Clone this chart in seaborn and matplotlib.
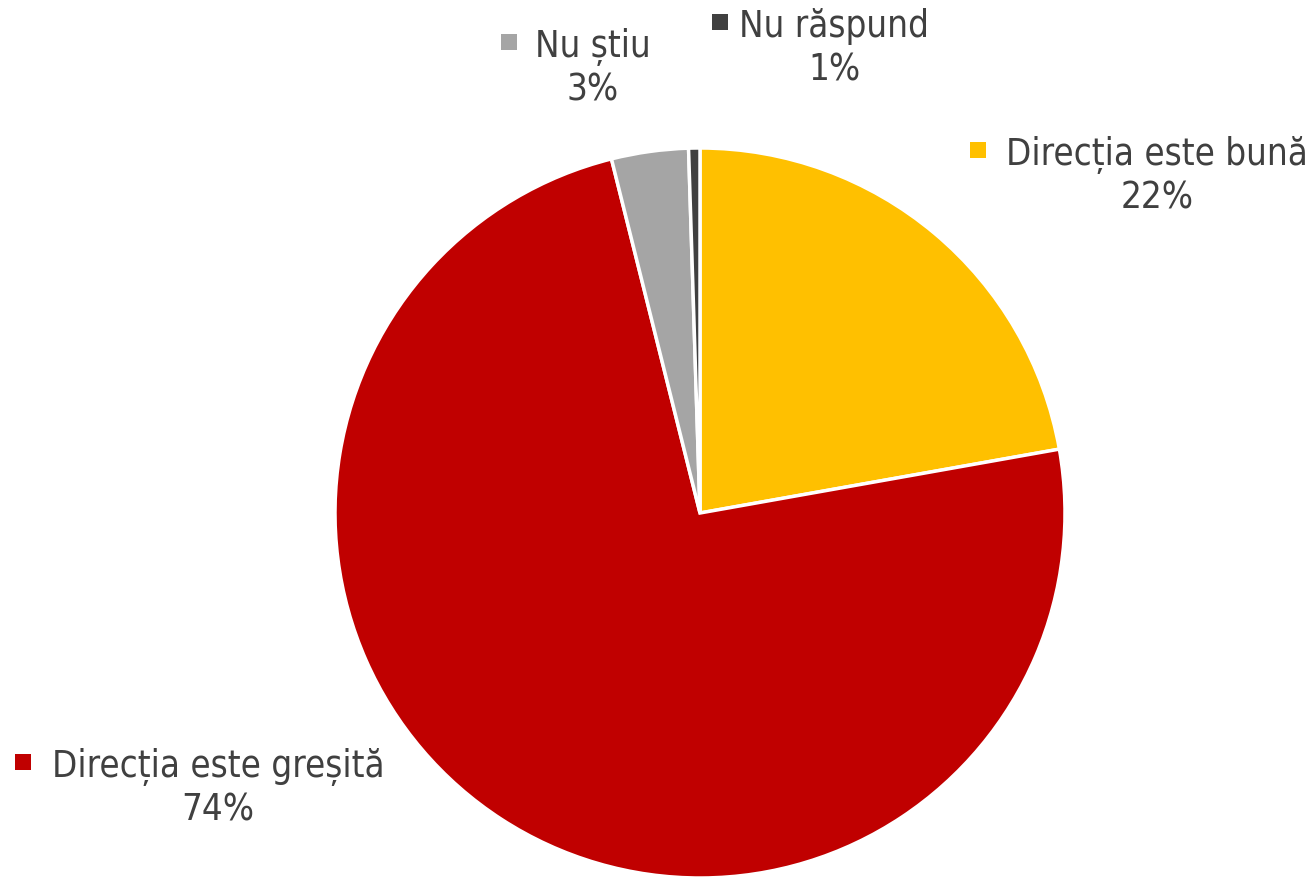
import seaborn as sns
import matplotlib.pyplot as plt
import numpy as np

# --- Data ---
categories = ["Direcția este bună", "Direcția este greșită", "Nu știu", "Nu răspund"]
shares = [22.2, 73.9, 3.4, 0.5]
pct_labels = ["22%", "74%", "3%", "1%"]
colors = ["#FFC000", "#C00000", "#A5A5A5", "#404040"]

# label placement in pixels: text centre x, text baseline y, square centre x
label_px = [(1157, 165, 978), (218, 777, 23), (593, 57, 509), (834, 37, 720)]

sns.set_style("white")
plt.rcParams["font.family"] = ["DejaVu Sans"]

W, H, DPI = 1315, 879, 100
cx, cy, R = 700, 514, 365

fig = plt.figure(figsize=(W / DPI, H / DPI), dpi=DPI)
ax = fig.add_axes([0, 0, 1, 1])
ax.pie(shares, colors=colors, startangle=90, counterclock=False, radius=1,
       wedgeprops=dict(edgecolor="white", linewidth=2.5))
ax.set_xlim(-cx / R, (W - cx) / R)
ax.set_ylim(-(H - cy) / R, cy / R)
ax.set_aspect("equal")
ax.axis("off")

txt_color = "#404040"
fs = 26.3
for name, pct, col, (px, py, sx) in zip(categories, pct_labels, colors, label_px):
    x = (px - cx) / R
    y = (cy - py) / R
    ax.text(x, y, name, ha="center", va="baseline", fontsize=fs,
            color=txt_color, fontstretch="condensed")
    ax.text(x, y - 44 / R, pct, ha="center", va="baseline", fontsize=fs,
            color=txt_color, fontstretch="condensed")
    ax.scatter([(sx - cx) / R], [y + 14 / R], marker="s", s=125, color=col,
               linewidths=0, clip_on=False)

fig.savefig("out.png", dpi=DPI)
plt.close()
